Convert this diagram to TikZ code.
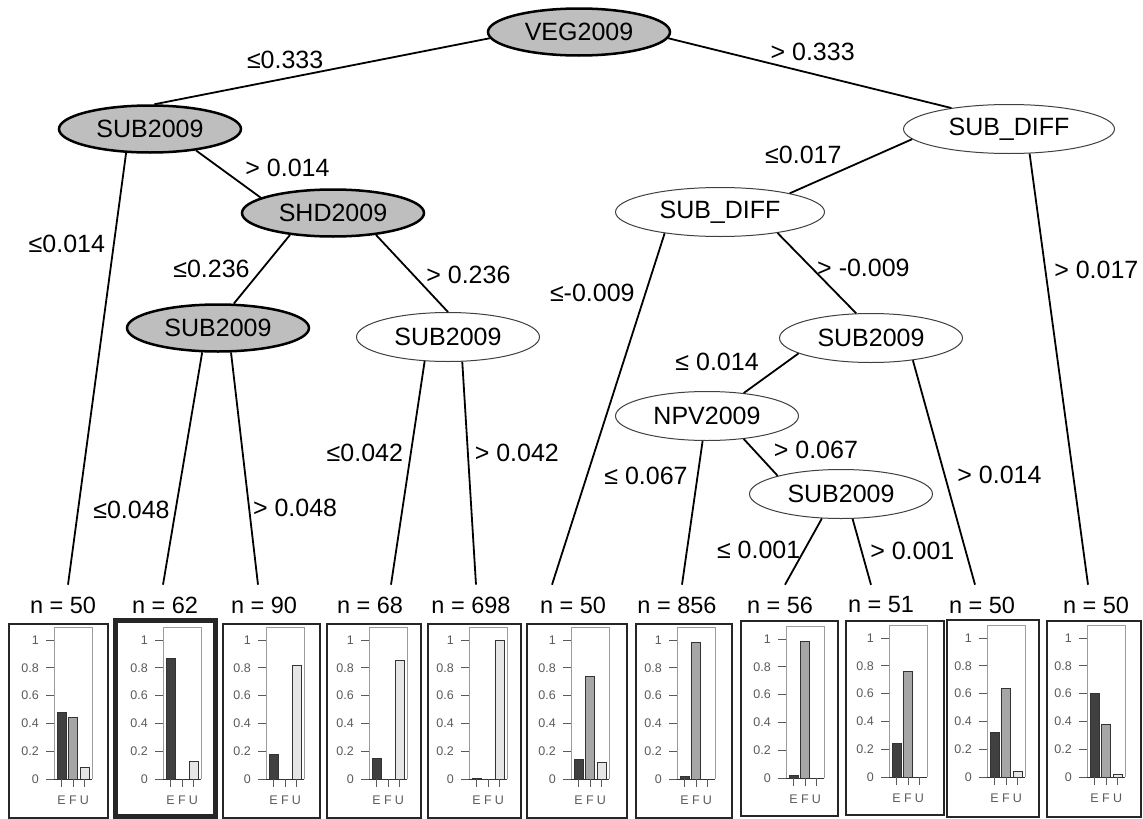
\documentclass[tikz,border=0pt]{standalone}
\usepackage{fontspec}
\setmainfont{Liberation Sans}
\usepackage{tikz}
\usetikzlibrary{positioning,shapes.geometric}

\definecolor{nodegray}{RGB}{190,190,190}
\definecolor{efill}{RGB}{64,64,64}
\definecolor{ffill}{RGB}{166,166,166}
\definecolor{ufill}{RGB}{230,230,230}
\definecolor{axisgray}{RGB}{90,90,90}

\tikzset{
  signode/.style={ellipse, draw, line width=2.5pt, fill=nodegray, minimum width=182pt, minimum height=47pt, inner sep=0pt, font=\fontsize{25}{30}\selectfont},
  plainnode/.style={ellipse, draw=black!75, line width=1pt, fill=white, minimum width=183pt, minimum height=49pt, inner sep=0pt, font=\fontsize{25}{30}\selectfont},
  branch/.style={line width=1.8pt},
  cutlab/.style={inner sep=0pt, font=\fontsize{25}{30}\selectfont},
  ncount/.style={inner sep=0pt, outer ysep=12pt, font=\fontsize{23.5}{28}\selectfont},
  panelbox/.style={draw=black!85, line width=1.2pt},
  axislab/.style={inner sep=0pt, text=axisgray, font=\fontsize{12.5}{15}\selectfont},
  barline/.style={draw=black!80, line width=0.8pt}
}

% one class-frequency plot, origin at frame left / baseline
\newcommand{\classbars}[5]{%
  \begin{scope}[shift={(#1,#2)}]
    \draw[axisgray!60, line width=0.8pt] (0,0) -- (0,-152) -- (38,-152) -- (38,0);
    \foreach \v in {0,0.2,0.4,0.6,0.8,1} {
      \draw[axisgray, line width=0.8pt] (-8,-139*\v) -- (0,-139*\v);
      \node[axislab, anchor=east] at (-15,-139*\v) {\v};
    }
    \draw[barline, fill=efill] (3,0) rectangle (12,-139*#3);
    \draw[barline, fill=ffill] (14.5,0) rectangle (23.5,-139*#4);
    \draw[barline, fill=ufill] (26,0) rectangle (35,-139*#5);
    \draw[black!80, line width=1pt] (0,0) -- (38,0);
    \foreach \c/\k in {7.5/E,19/F,30.5/U} {
      \draw[axisgray, line width=0.8pt] (\c,0) -- (\c,8);
      \node[axislab] at (\c,21) {\k};
    }
  \end{scope}}

\begin{document}
\begin{tikzpicture}[x=1pt, y=-1pt]
    \useasboundingbox (0,0) rectangle (1143,819);

    % split nodes
    \node[signode] (veg) at (579,32) {VEG2009};
    \node[signode] (suba) at (150,129) {SUB2009};
    \node[plainnode, minimum width=211pt] (sd1) at (1009,129) {SUB\_DIFF};
    \node[signode] (shd) at (333,213) {SHD2009};
    \node[plainnode, minimum width=209pt] (sd2) at (720,212) {SUB\_DIFF};
    \node[signode] (subc) at (218,328) {SUB2009};
    \node[plainnode] (subd) at (448,337) {SUB2009};
    \node[plainnode] (sube) at (871,338) {SUB2009};
    \node[plainnode] (npv) at (707,416) {NPV2009};
    \node[plainnode] (subf) at (841,494) {SUB2009};

    % terminal counts
    \foreach \x/\n [count=\i] in {63/50,165/62,264/90,370/68,471/698,573/50,677/856,780/56,881/51,982/50,1096/50}
        \node[ncount] (l\i) at (\x,605) {n = \n};

    \draw[branch] (veg.184) -- (suba.80) node[cutlab, pos=0.61, above=9pt] {≤0.333};
    \draw[branch] (veg.-4) -- (sd1.160) node[cutlab, pos=0.51, above=12pt] {> 0.333};
    \draw[branch] (suba.-135) -- ([xshift=5pt]l1.north) node[cutlab, pos=0.21, left=8pt] {≤0.014};
    \draw[branch] (suba.-25) -- (shd.168) node[cutlab, pos=0.75, above right=8pt and 0pt] {> 0.014};
    \draw[branch] (shd.-153) -- (subc.57) node[cutlab, pos=0.49, left=12pt] {≤0.236};
    \draw[branch] (shd.-27) -- (subd.north) node[cutlab, pos=0.52, right=12pt] {> 0.236};
    \draw[branch] (subc.-123) -- ([xshift=-2pt]l2.north) node[cutlab, pos=0.68, left=5pt] {≤0.048};
    \draw[branch] (subc.-62) -- ([xshift=-6pt]l3.north) node[cutlab, pos=0.67, right=3pt] {> 0.048};
    \draw[branch] (subd.-134) -- ([xshift=21pt]l4.north) node[cutlab, pos=0.41, left=7pt] {≤0.042};
    \draw[branch] (subd.-60) -- ([xshift=5pt]l5.north) node[cutlab, pos=0.41, right=6pt] {> 0.042};
    \draw[branch] (sd1.186) -- (sd2.15) node[cutlab, pos=0.57, above left=5pt and 0pt] {≤0.017};
    \draw[branch] (sd1.-50) -- ([xshift=-8pt]l11.north) node[cutlab, pos=0.27, right=8pt] {> 0.017};
    \draw[branch] (sd2.-159) -- ([xshift=-21pt]l6.north) node[cutlab, pos=0.17, left=10pt] {≤-0.009};
    \draw[branch] (sd2.-20) -- (sube.121) node[cutlab, pos=0.43, right=5pt] {> -0.009};
    \draw[branch] (sube.-168) -- (npv.32) node[cutlab, pos=0.71, above left=10pt and 0pt] {≤ 0.014};
    \draw[branch] (sube.-28) -- ([xshift=-7pt]l10.north) node[cutlab, pos=0.51, right=12pt] {> 0.014};
    \draw[branch] (npv.-100) -- ([xshift=5pt]l7.north) node[cutlab, pos=0.245, left=9pt] {≤ 0.067};
    \draw[branch] (npv.-32) -- (subf.164) node[cutlab, pos=0.86, above right=11pt and 0pt] {> 0.067};
    \draw[branch] (subf.-128) -- ([xshift=5pt]l8.north) node[cutlab, pos=0.48, left=3pt] {≤ 0.001};
    \draw[branch] (subf.-65) -- ([xshift=-10pt]l9.north) node[cutlab, pos=0.48, right=8pt] {> 0.001};

    % panels
    \foreach \l/\t/\r/\b in {9/624/108/818,223/624/320/818,327/624/421/818,428/624/521/818,527/624/627/818,636/624/732/818,741/621/838/816,846/621/944/815,947/620/1039/817,1047/621/1141/817}
        \draw[panelbox] (\l,\t) rectangle (\r,\b);
    \draw[panelbox, line width=5pt] (115.5,620.5) rectangle (215.5,816.5);

    \foreach \fx/\fy/\e/\f/\u in {54/779/0.48/0.44/0.08, 163/779/0.87/0/0.13, 266/779/0.18/0/0.82,
        369/779/0.15/0/0.85, 469/779/0.005/0/0.995, 571/779/0.14/0.74/0.12, 677/779/0.02/0.98/0,
        786/778/0.02/0.98/0, 889/777/0.24/0.76/0, 987/777/0.32/0.64/0.04, 1087/777/0.60/0.38/0.02}
        \classbars{\fx}{\fy}{\e}{\f}{\u};
\end{tikzpicture}
\end{document}
